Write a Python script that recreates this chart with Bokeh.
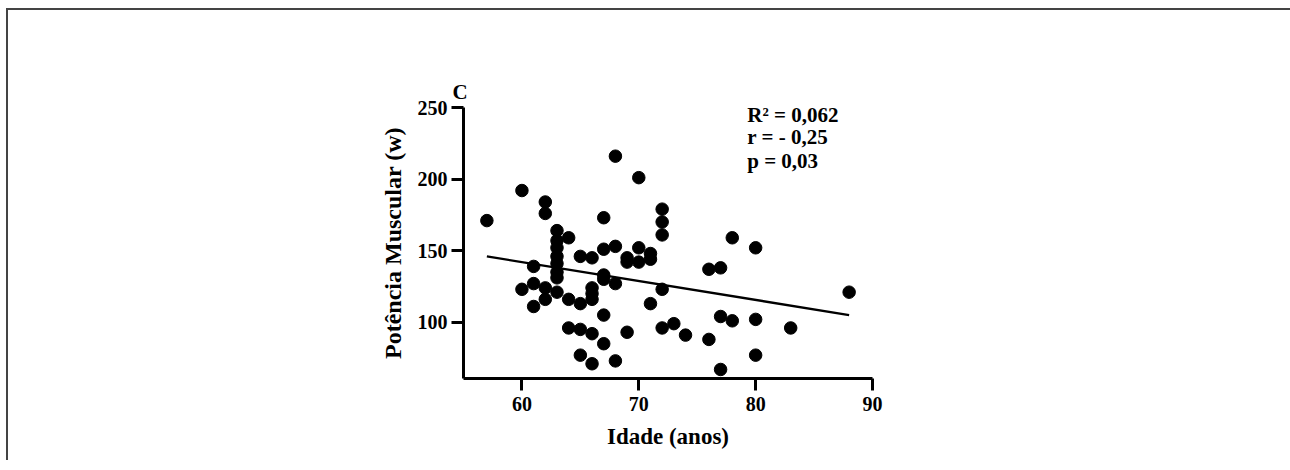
from bokeh.plotting import figure
from bokeh.models import Range1d, FixedTicker, Label
from bokeh.embed import file_html
from bokeh.resources import INLINE

# ---- data ----
ages = [57,
        60, 60,
        61, 61, 61,
        62, 62, 62, 62,
        63, 63, 63, 63, 63, 63, 63, 63,
        64, 64, 64,
        65, 65, 65, 65,
        66, 66, 66, 66, 66, 66,
        67, 67, 67, 67, 67, 67,
        68, 68, 68, 68,
        69, 69, 69,
        70, 70, 70,
        71, 71, 71,
        72, 72, 72, 72, 72,
        73, 74,
        76, 76,
        77, 77, 77,
        78, 78,
        80, 80, 80,
        83, 88]
power = [171,
         192, 123,
         139, 127, 111,
         184, 176, 124, 116,
         164, 157, 152, 146, 141, 135, 131, 121,
         159, 116, 96,
         146, 113, 95, 77,
         145, 124, 120, 116, 92, 71,
         173, 151, 133, 130, 105, 85,
         216, 153, 127, 73,
         145, 142, 93,
         201, 152, 142,
         148, 144, 113,
         179, 170, 161, 123, 96,
         99, 91,
         137, 88,
         138, 104, 67,
         159, 101,
         152, 102, 77,
         96, 121]

fit_x = [57, 88]
fit_y = [146, 105]

x_ticks = [60, 70, 80, 90]
y_ticks = [100, 150, 200, 250]

panel_letter = "C"
stats_lines = ["R² = 0,062", "r = - 0,25", "p = 0,03"]
x_title = "Idade (anos)"
y_title = "Potência Muscular (w)"

FONT = "Liberation Serif"

p = figure(output_backend="svg", toolbar_location=None,
           x_range=Range1d(55, 90), y_range=Range1d(60.7, 250),
           frame_width=409, frame_height=271,
           min_border_left=455, min_border_top=97,
           min_border_right=418, min_border_bottom=82)
p.margin = (8, 0, 0, 6)
p.styles = {"border-top": "2px solid #444444", "border-left": "2px solid #444444"}
p.outline_line_color = None
p.grid.visible = False
p.background_fill_color = "white"
p.border_fill_color = "white"

p.title.text = panel_letter
p.title.text_font = FONT
p.title.text_font_style = "bold"
p.title.text_font_size = "21px"
p.title.text_color = "black"
p.title.align = "left"
p.title.offset = -11
p.title.standoff = 7

for ax, ticks in ((p.xaxis[0], x_ticks), (p.yaxis[0], y_ticks)):
    ax.ticker = FixedTicker(ticks=ticks)
    ax.axis_line_width = 3
    ax.axis_line_color = "black"
    ax.major_tick_line_width = 3
    ax.major_tick_line_color = "black"
    ax.major_tick_in = 0
    ax.major_tick_out = 12
    ax.minor_tick_line_color = None
    ax.major_label_text_font = FONT
    ax.major_label_text_font_style = "bold"
    ax.major_label_text_font_size = "20px"
    ax.major_label_text_color = "black"
    ax.axis_label_text_font = FONT
    ax.axis_label_text_font_style = "bold"
    ax.axis_label_text_color = "black"

p.xaxis[0].axis_label = x_title
p.yaxis[0].axis_label = y_title
p.xaxis[0].axis_label_text_font_size = "23px"
p.yaxis[0].axis_label_text_font_size = "24px"
p.xaxis[0].major_label_standoff = 6
p.yaxis[0].major_label_standoff = 4
p.xaxis[0].axis_label_standoff = 10
p.yaxis[0].axis_label_standoff = 9

p.line(fit_x, fit_y, line_color="black", line_width=2.3)
p.scatter(ages, power, size=12.5, fill_color="black", line_color="black")

stats_y = [245.1, 229.4, 212.6]
for s, yy in zip(stats_lines, stats_y):
    p.add_layout(Label(x=79.28, y=yy, text=s, text_font=FONT,
                       text_font_style="bold", text_font_size="21px",
                       text_align="left", text_baseline="alphabetic", text_color="black"))

open("out.html", "w").write(file_html(p, INLINE))
